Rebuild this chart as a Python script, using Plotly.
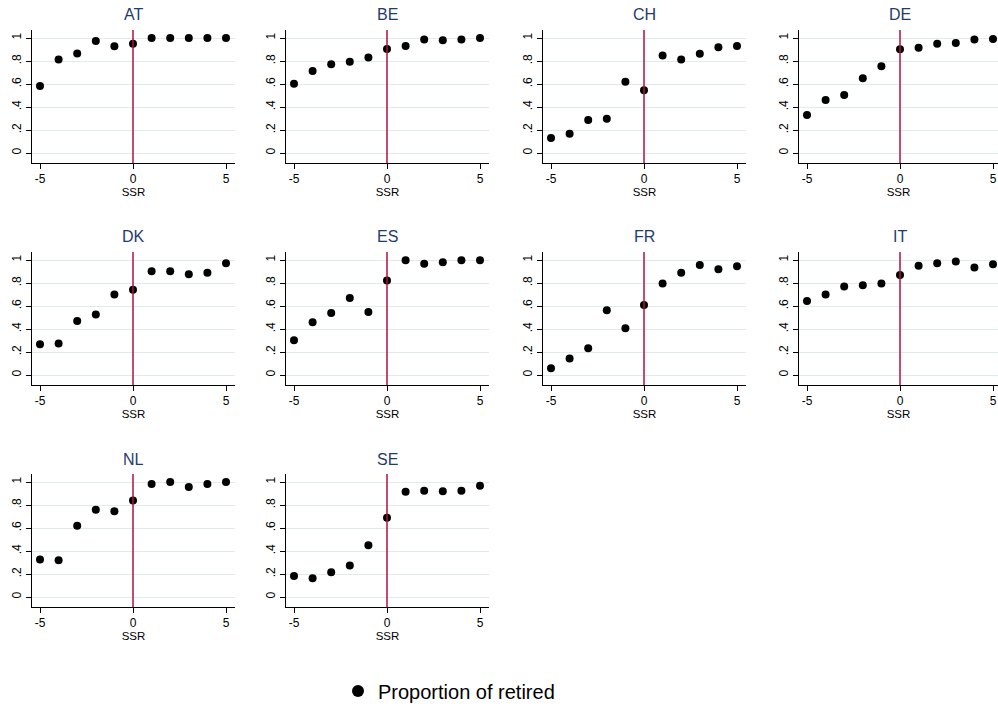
import plotly.graph_objects as go

W, H = 998, 711

ssr = [-5, -4, -3, -2, -1, 0, 1, 2, 3, 4, 5]
countries = ["AT", "BE", "CH", "DE", "DK", "ES", "FR", "IT", "NL", "SE"]

AT = [0.582, 0.813, 0.865, 0.974, 0.928, 0.951, 1.0, 1.0, 1.0, 1.0, 1.0]
BE = [0.602, 0.712, 0.772, 0.793, 0.830, 0.905, 0.931, 0.988, 0.980, 0.988, 1.0]
CH = [0.130, 0.167, 0.288, 0.297, 0.620, 0.545, 0.847, 0.813, 0.862, 0.919, 0.931]
DE = [0.331, 0.461, 0.504, 0.651, 0.755, 0.902, 0.916, 0.951, 0.957, 0.988, 0.991]
DK = [0.268, 0.274, 0.470, 0.527, 0.700, 0.741, 0.902, 0.902, 0.876, 0.890, 0.971]
ES = [0.303, 0.458, 0.539, 0.669, 0.548, 0.821, 0.997, 0.968, 0.980, 0.997, 0.997]
FR = [0.058, 0.144, 0.233, 0.562, 0.406, 0.608, 0.795, 0.890, 0.957, 0.919, 0.945]
IT = [0.643, 0.700, 0.769, 0.781, 0.795, 0.870, 0.951, 0.971, 0.988, 0.934, 0.963]
NL = [0.326, 0.320, 0.620, 0.758, 0.746, 0.839, 0.983, 1.0, 0.957, 0.983, 1.0]
SE = [0.182, 0.164, 0.216, 0.274, 0.450, 0.689, 0.916, 0.925, 0.919, 0.925, 0.968]
values = [AT, BE, CH, DE, DK, ES, FR, IT, NL, SE]

ytick_vals = [0, 0.2, 0.4, 0.6, 0.8, 1]
ytick_text = ["0", ".2", ".4", ".6", ".8", "1"]
xtick_vals = [-5, 0, 5]
xtick_text = ["-5", "0", "5"]
legend_label = "Proportion of retired"
x_title = "SSR"

FONT = "Liberation Sans, Arial, sans-serif"
TITLE_COLOR = "#1f3b6e"
LINE_RED = "#b0103e"
GRID = "#e1ebee"

col_left = [32, 286, 543, 799]
row_top = [30, 252, 474]
pw, ph = 203, 133
xpx = 18.6  # px per unit
x0 = -5 - 8 / xpx
yr = [-10 / 115, 1 + 8 / 115]

fig = go.Figure()
layout = {}
annotations = []
shapes = []

for i, (c, v) in enumerate(zip(countries, values)):
    r, k = divmod(i, 4)
    L = col_left[k]
    R = min(L + pw, W)
    T = row_top[r]
    B = T + ph
    n = "" if i == 0 else str(i + 1)
    xa, ya = "x" + n, "y" + n
    fig.add_trace(go.Scatter(
        x=ssr, y=v, mode="markers", xaxis=xa, yaxis=ya,
        marker=dict(color="black", size=8), showlegend=False,
        hoverinfo="skip", cliponaxis=False if k < 3 else True,
    ))
    layout["xaxis" + n] = dict(
        domain=[L / W, R / W], range=[x0, x0 + (R - L) / xpx],
        anchor=ya, showline=True, linecolor="black", linewidth=1,
        ticks="outside", ticklen=5, tickcolor="black",
        tickvals=xtick_vals, ticktext=xtick_text,
        showgrid=False, zeroline=False,
        tickfont=dict(family=FONT, size=12, color="black"),
        title=dict(text=x_title, font=dict(family=FONT, size=11.5, color="black"), standoff=0),
        fixedrange=True,
    )
    layout["yaxis" + n] = dict(
        domain=[1 - B / H, 1 - T / H], range=yr,
        anchor=xa, showline=True, linecolor="black", linewidth=1,
        ticks="outside", ticklen=5, tickcolor="black",
        tickvals=ytick_vals, ticktext=ytick_text, tickangle=-90,
        showgrid=True, gridcolor=GRID, gridwidth=1, zeroline=False,
        tickfont=dict(family=FONT, size=12, color="black"),
        fixedrange=True,
    )
    shapes.append(dict(type="line", xref=xa, yref=ya + " domain",
                       x0=0, x1=0, y0=0, y1=1,
                       line=dict(color=LINE_RED, width=1.5)))
    annotations.append(dict(text=c, xref=xa, x=0, yref="paper",
                            y=1 - (T - 15) / H, yanchor="middle", xanchor="center",
                            showarrow=False,
                            font=dict(family=FONT, size=16, color=TITLE_COLOR)))

fig.add_trace(go.Scatter(x=[None], y=[None], mode="markers",
                         marker=dict(color="black", size=12),
                         name=legend_label, showlegend=True))

fig.update_layout(
    width=W, height=H, margin=dict(l=0, r=0, t=0, b=0),
    paper_bgcolor="white", plot_bgcolor="white",
    annotations=annotations, shapes=shapes,
    showlegend=True,
    legend=dict(x=338 / W, y=1 - 691 / H, xanchor="left", yanchor="middle",
                font=dict(family=FONT, size=20, color="black"),
                bgcolor="rgba(0,0,0,0)", itemsizing="trace"),
    **layout,
)

fig.write_html("out.html")
